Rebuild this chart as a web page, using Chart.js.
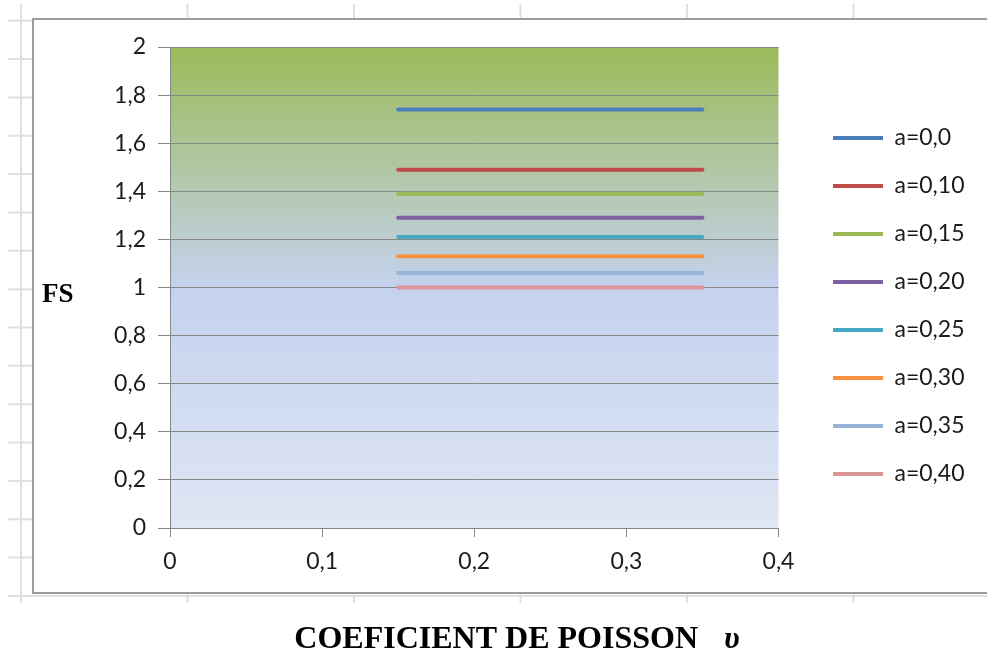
<!DOCTYPE html>
<html>
<head>
<meta charset="utf-8">
<script src="https://cdn.jsdelivr.net/npm/chart.js@4.4.1/dist/chart.umd.min.js"></script>
<style>
  html, body { margin: 0; padding: 0; background: #ffffff; }
  #wrap { width: 987px; height: 660px; position: relative; }
</style>
</head>
<body>
<div id="wrap"><canvas id="c" width="987" height="660"></canvas></div>
<script>
// ---- data ----
const poissonValues = [0.15, 0.20, 0.25, 0.30, 0.35];
const seriesNames = ['a=0,0', 'a=0,10', 'a=0,15', 'a=0,20', 'a=0,25', 'a=0,30', 'a=0,35', 'a=0,40'];
const fsA000 = [1.74, 1.74, 1.74, 1.74, 1.74];
const fsA010 = [1.49, 1.49, 1.49, 1.49, 1.49];
const fsA015 = [1.39, 1.39, 1.39, 1.39, 1.39];
const fsA020 = [1.29, 1.29, 1.29, 1.29, 1.29];
const fsA025 = [1.21, 1.21, 1.21, 1.21, 1.21];
const fsA030 = [1.13, 1.13, 1.13, 1.13, 1.13];
const fsA035 = [1.06, 1.06, 1.06, 1.06, 1.06];
const fsA040 = [1.00, 1.00, 1.00, 1.00, 1.00];
const yTickLabels = ['0', '0,2', '0,4', '0,6', '0,8', '1', '1,2', '1,4', '1,6', '1,8', '2'];
const xTickLabels = ['0', '0,1', '0,2', '0,3', '0,4'];
const yAxisTitle = 'FS';
const xAxisTitle = 'COEFICIENT DE POISSON';
const xAxisSymbol = 'υ';

// ---- styles ----
const seriesColors = ['#4a7ebb', '#be4b48', '#98b954', '#7d60a0', '#46aac5', '#f69240', '#95b3d7', '#d99694'];
const allSeries = [fsA000, fsA010, fsA015, fsA020, fsA025, fsA030, fsA035, fsA040];

const datasets = allSeries.map((vals, i) => ({
  label: seriesNames[i],
  data: poissonValues.map((x, j) => ({ x: x, y: vals[j] })),
  borderColor: seriesColors[i],
  backgroundColor: seriesColors[i],
  borderWidth: 4,
  borderCapStyle: 'round',
  pointRadius: 0,
  pointStyle: 'line',
  fill: false,
  tension: 0
}));

const sheetPlugin = {
  id: 'sheet',
  beforeDraw(chart) {
    const ctx = chart.ctx;
    ctx.save();
    ctx.fillStyle = '#ffffff';
    ctx.fillRect(0, 0, chart.width, chart.height);
    // spreadsheet grid
    ctx.strokeStyle = '#e0e0e0';
    ctx.lineWidth = 2;
    for (let k = 0; k < 6; k++) {
      const x = 21 + 166.5 * k;
      ctx.beginPath(); ctx.moveTo(x, 4); ctx.lineTo(x, 603); ctx.stroke();
    }
    for (let k = 0; k < 16; k++) {
      const y = 20.7 + 38.35 * k;
      ctx.beginPath(); ctx.moveTo(8, y); ctx.lineTo(chart.width, y); ctx.stroke();
    }
    // chart frame
    ctx.fillStyle = '#ffffff';
    ctx.fillRect(33, 19, chart.width, 574);
    ctx.strokeStyle = '#9d9d9d';
    ctx.lineWidth = 2;
    ctx.strokeRect(33, 19, chart.width + 10, 574);
    // plot area gradient
    const a = chart.chartArea;
    const g = ctx.createLinearGradient(0, a.top, 0, a.bottom);
    g.addColorStop(0, '#9bbb59');
    g.addColorStop(0.5, '#c4d2ee');
    g.addColorStop(1, '#dfe6f4');
    ctx.fillStyle = g;
    ctx.fillRect(a.left, a.top, a.right - a.left, a.bottom - a.top);
    ctx.restore();
  },
  afterDraw(chart) {
    const ctx = chart.ctx;
    ctx.save();
    ctx.fillStyle = '#000000';
    ctx.textBaseline = 'alphabetic';
    ctx.textAlign = 'left';
    ctx.font = 'bold 27px "Liberation Serif", "Times New Roman", serif';
    ctx.fillText(yAxisTitle, 42, 302);
    ctx.font = 'bold 32px "Liberation Serif", "Times New Roman", serif';
    const w1 = ctx.measureText(xAxisTitle).width;
    ctx.font = 'bold italic 32px "Liberation Serif", "Times New Roman", serif';
    const w2 = ctx.measureText(xAxisSymbol).width;
    const gap = 26;
    const total = w1 + gap + w2;
    const x0 = 517 - total / 2;
    ctx.font = 'bold 32px "Liberation Serif", "Times New Roman", serif';
    ctx.fillText(xAxisTitle, x0, 648);
    ctx.font = 'bold italic 32px "Liberation Serif", "Times New Roman", serif';
    ctx.fillText(xAxisSymbol, x0 + w1 + gap, 648);
    ctx.restore();
  }
};

const legendPlace = {
  id: 'legendPlace',
  afterUpdate(chart) {
    const l = chart.legend;
    if (!l) return;
    const w = l.right - l.left;
    const h = l.bottom - l.top;
    l.left = 808; l.right = 808 + w;
    l.top = (612 - h) / 2; l.bottom = l.top + h;
  }
};

const tickFont = { family: 'Lato, "Open Sans", sans-serif', size: 23 };

new Chart(document.getElementById('c'), {
  type: 'line',
  data: { datasets: datasets },
  plugins: [sheetPlugin, legendPlace],
  options: {
    responsive: false,
    animation: false,
    devicePixelRatio: 1,
    layout: { padding: { top: 47, left: 0, right: 42, bottom: 0 } },
    plugins: {
      legend: {
        position: 'right',
        labels: {
          usePointStyle: true,
          pointStyle: 'line',
          pointStyleWidth: 50,
          font: tickFont,
          color: '#1c1c1c',
          padding: 25
        }
      },
      tooltip: { enabled: false },
      title: { display: false }
    },
    scales: {
      x: {
        type: 'linear',
        min: 0,
        max: 0.4,
        afterFit(scale) { scale.height = 132; },
        ticks: {
          stepSize: 0.1,
          font: tickFont,
          color: '#1c1c1c',
          padding: 11,
          maxRotation: 0,
          callback: (v, i) => xTickLabels[i]
        },
        grid: { drawOnChartArea: false, drawTicks: true, tickLength: 9, color: '#878787', lineWidth: 1 },
        border: { display: true, color: '#878787', width: 1 }
      },
      y: {
        type: 'linear',
        min: 0,
        max: 2,
        afterFit(scale) { scale.width = 170; },
        ticks: {
          stepSize: 0.2,
          font: tickFont,
          color: '#1c1c1c',
          padding: 12,
          callback: (v, i) => yTickLabels[i]
        },
        grid: { drawOnChartArea: true, drawTicks: true, tickLength: 12, color: '#878787', lineWidth: 1 },
        border: { display: true, color: '#878787', width: 1 }
      }
    }
  }
});
</script>
</body>
</html>
